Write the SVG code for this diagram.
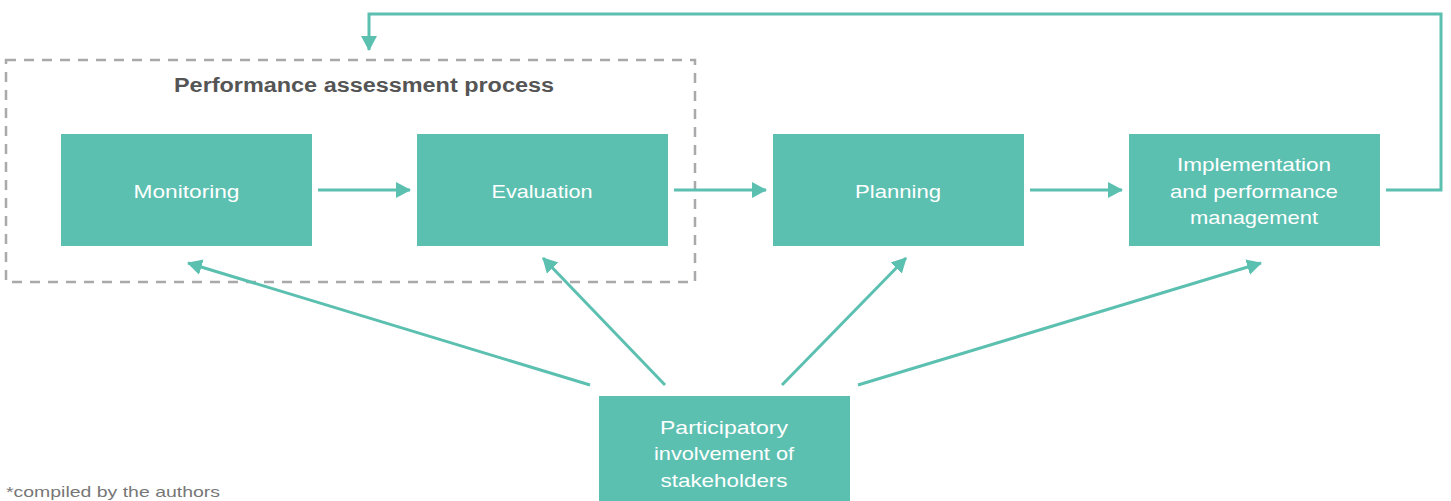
<svg xmlns="http://www.w3.org/2000/svg" width="1451" height="501" viewBox="0 0 1451 501">
  <style>
    .box { fill: #5cc0b1; }
    .label { font-family: "Liberation Sans", Arial, sans-serif; font-size: 19px; fill: #ffffff; text-anchor: middle; }
    .title { font-family: "Liberation Sans", Arial, sans-serif; font-size: 20px; font-weight: bold; fill: #555555; text-anchor: middle; }
    .note { font-family: "Liberation Sans", Arial, sans-serif; font-size: 15px; fill: #777777; }
    .conn { fill: none; stroke: #5cc0b1; stroke-width: 3; }
    .frame { fill: none; stroke: #a9a9ab; stroke-width: 2.5; stroke-dasharray: 10 8; }
  </style>
  <defs>
    <marker id="head" markerUnits="userSpaceOnUse" markerWidth="16" markerHeight="18" refX="14" refY="8" orient="auto" viewBox="0 0 16 16">
      <path d="M0,0 L15,8 L0,16 Z" fill="#5cc0b1"/>
    </marker>
  </defs>

  <!-- dashed frame around the assessment stage -->
  <g id="assessment-frame">
    <rect class="frame" x="6" y="60" width="689" height="222"/>
    <text class="title" x="364" y="92" textLength="380" lengthAdjust="spacingAndGlyphs">Performance assessment process</text>
  </g>

  <g id="monitoring">
    <rect class="box" x="61" y="134" width="251" height="112"/>
    <text class="label" x="186.5" y="198" textLength="106" lengthAdjust="spacingAndGlyphs">Monitoring</text>
  </g>
  <g id="evaluation">
    <rect class="box" x="417" y="134" width="251" height="112"/>
    <text class="label" x="542" y="198" textLength="101" lengthAdjust="spacingAndGlyphs">Evaluation</text>
  </g>
  <g id="planning">
    <rect class="box" x="773" y="134" width="251" height="112"/>
    <text class="label" x="898" y="198" textLength="86" lengthAdjust="spacingAndGlyphs">Planning</text>
  </g>
  <g id="implementation">
    <rect class="box" x="1129" y="134" width="251" height="112"/>
    <text class="label" x="1254" y="171" textLength="154" lengthAdjust="spacingAndGlyphs">Implementation</text>
    <text class="label" x="1254" y="198" textLength="168" lengthAdjust="spacingAndGlyphs">and performance</text>
    <text class="label" x="1254" y="224" textLength="128" lengthAdjust="spacingAndGlyphs">management</text>
  </g>
  <g id="participation">
    <rect class="box" x="599" y="396" width="251" height="110"/>
    <text class="label" x="724" y="434" textLength="128" lengthAdjust="spacingAndGlyphs">Participatory</text>
    <text class="label" x="724" y="460" textLength="140" lengthAdjust="spacingAndGlyphs">involvement of</text>
    <text class="label" x="724" y="487" textLength="127" lengthAdjust="spacingAndGlyphs">stakeholders</text>
  </g>

  <g id="connectors">
    <line class="conn" x1="318" y1="190" x2="410" y2="190" marker-end="url(#head)"/>
    <line class="conn" x1="674" y1="190" x2="766" y2="190" marker-end="url(#head)"/>
    <line class="conn" x1="1030" y1="190" x2="1122" y2="190" marker-end="url(#head)"/>
    <polyline class="conn" points="1386,190 1441,190 1441,14 369,14 369,50" marker-end="url(#head)"/>
    <line class="conn" x1="590" y1="385" x2="188" y2="263" marker-end="url(#head)"/>
    <line class="conn" x1="665" y1="385" x2="543" y2="258" marker-end="url(#head)"/>
    <line class="conn" x1="782" y1="385" x2="906" y2="258" marker-end="url(#head)"/>
    <line class="conn" x1="858" y1="385" x2="1261" y2="263" marker-end="url(#head)"/>
  </g>

  <text class="note" x="6" y="497" textLength="214" lengthAdjust="spacingAndGlyphs">*compiled by the authors</text>
</svg>
